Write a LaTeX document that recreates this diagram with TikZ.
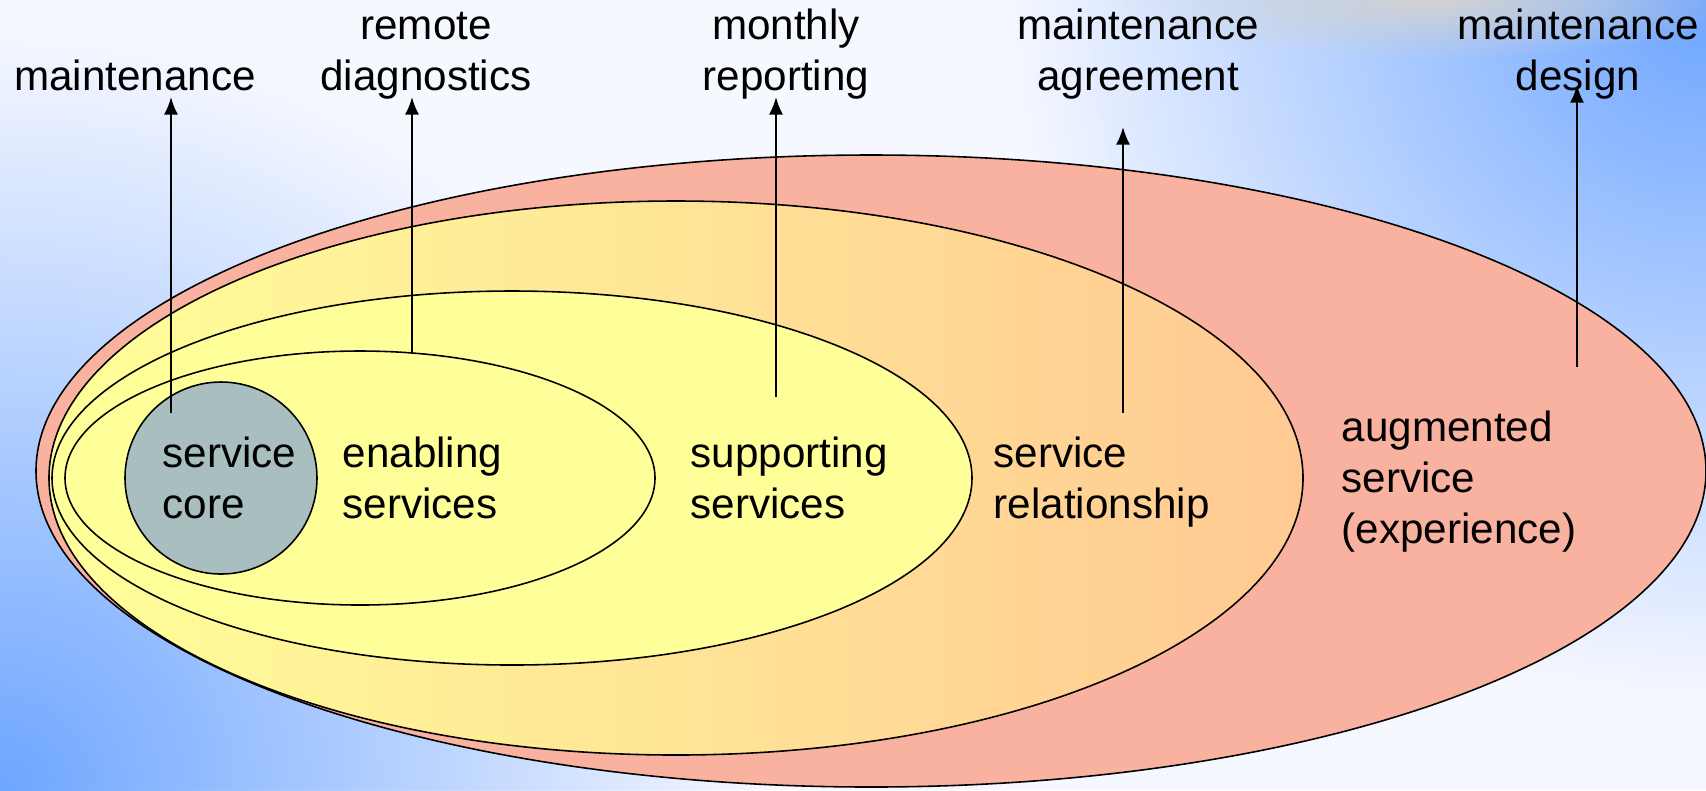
\documentclass[tikz,border=0pt]{standalone}
\usepackage{fontspec}
\setmainfont{Liberation Sans}
\usepackage{tikz}
\usetikzlibrary{arrows.meta,positioning,fadings}
\tikzset{>=latex}
\definecolor{aug-color}{HTML}{F9B2A0}
\definecolor{rel-color}{HTML}{FFC993}
\definecolor{sup-color}{HTML}{FFFF99}
\definecolor{core-color}{HTML}{A9BFBF}
\definecolor{sky-color}{HTML}{6EA6FF}
\definecolor{base-color}{HTML}{F6F8FF}
\tikzfading[name=glow, inner color=transparent!0, outer color=transparent!100]

\begin{document}
\begin{tikzpicture}[x=0.01cm, y=-0.01cm,
                >={Latex[length=5pt,width=4pt]},
                every node/.append style={font=\fontsize{12}{14.5}\selectfont, inner sep=0pt},
                ring/.style={draw, line width=0.45pt},
                lbl/.style={align=left, anchor=base west},
                tag/.style={align=center, anchor=base},
                link/.style={line width=0.6pt}]
   \useasboundingbox (0,0) rectangle (1706,790);
   \begin{scope}
      \clip (0,0) rectangle (1706,790);
      \fill[base-color] (0,0) rectangle (1706,790);
      \fill[sky-color, path fading=glow] (0,790) circle (760);
      \fill[sky-color, path fading=glow] (1706,0) circle (700);
      \fill[gray!35, path fading=glow] (1430,0) ellipse (320 and 60);
   \end{scope}

   \draw[ring, fill=aug-color] (871,471) ellipse (835 and 316);
   \draw[ring, left color=sup-color, right color=rel-color] (676,478) ellipse (627 and 277);
   \draw[ring, fill=sup-color] (512,478) ellipse (460 and 187);
   \draw[ring, fill=sup-color] (360,478) ellipse (295 and 127);
   \draw[ring, fill=core-color] (221,478) circle (96);

   \node[lbl] (core) at (162,518) {service\\core};
   \node[lbl] (enab) at (342,518) {enabling\\services};
   \node[lbl] (supp) at (690,518) {supporting\\services};
   \node[lbl] (rel)  at (993,518) {service\\relationship};
   \node[lbl] (aug)  at (1341,543) {augmented\\service\\(experience)};

   \node[tag] (maint)  at (135,90)  {maintenance};
   \node[tag] (remote) at (426,90)  {remote\\diagnostics};
   \node[tag] (report) at (786,90)  {monthly\\reporting};
   \node[tag] (agree)  at (1138,90) {maintenance\\agreement};
   \node[tag] (design) at (1578,90) {maintenance\\design};

   \coordinate (m0) at (171,413);  \coordinate (m1) at (171,97);
   \coordinate (r0) at (412,353);  \coordinate (r1) at (412,97);
   \coordinate (p0) at (776,397);  \coordinate (p1) at (776,97);
   \coordinate (a0) at (1123,413); \coordinate (a1) at (1123,127);
   \coordinate (d0) at (1577,367); \coordinate (d1) at (1577,85);
   \path[->, link] (m0) edge (m1)
                   (r0) edge (r1)
                   (p0) edge (p1)
                   (a0) edge (a1)
                   (d0) edge (d1);
\end{tikzpicture}
\end{document}
